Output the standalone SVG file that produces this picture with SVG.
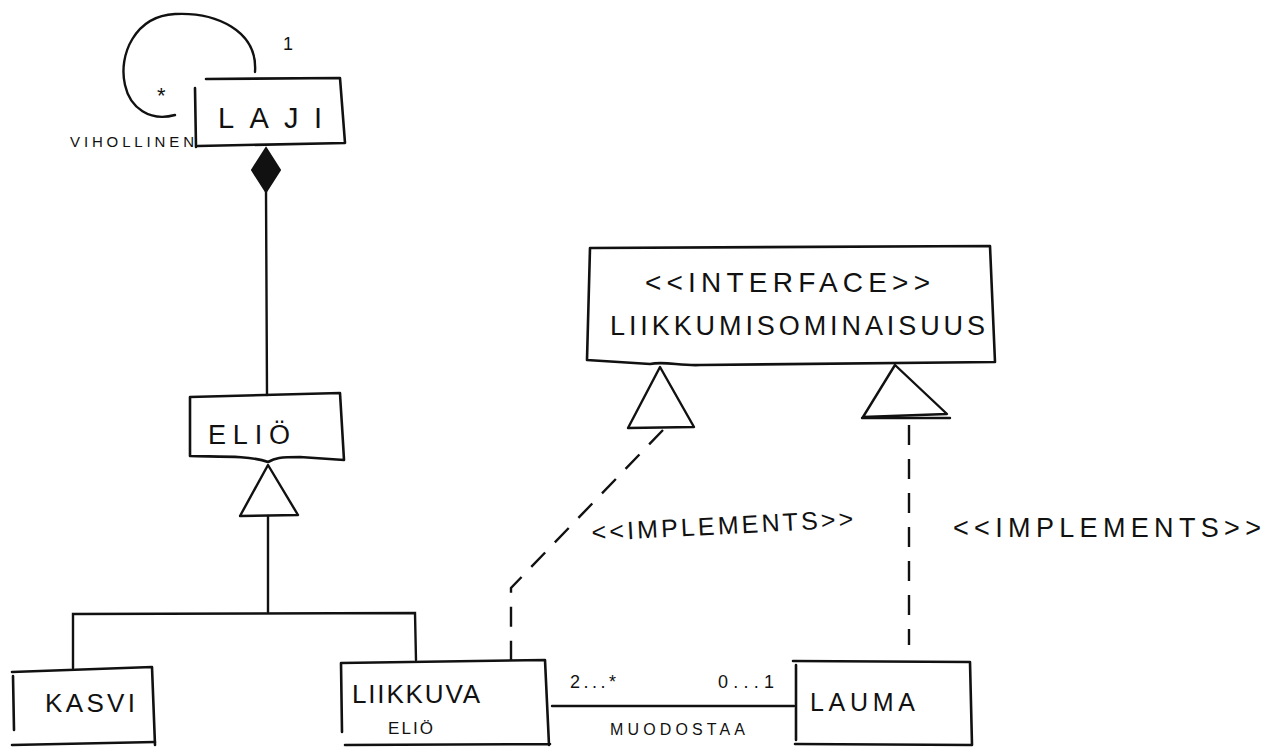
<svg xmlns="http://www.w3.org/2000/svg" width="1272" height="749" viewBox="0 0 1272 749">
<style>
.box{fill:none;stroke:#111;stroke-width:2.6;stroke-linecap:round;stroke-linejoin:round}
.ln{fill:none;stroke:#111;stroke-width:2.4;stroke-linecap:round}
.dash{fill:none;stroke:#111;stroke-width:2.4;stroke-dasharray:20 14}
.tri{fill:#fff;stroke:#111;stroke-width:2.4;stroke-linejoin:round}
.t{font-family:"Liberation Sans",Arial,sans-serif;fill:#111}
</style>
<rect width="1272" height="749" fill="#fff"/>
<g id="connectors">
  <path class="ln" d="M255 72 C258 30 215 12 175 14 C135 16 118 55 125 85 C130 108 150 122 175 115"/>
  <line class="ln" x1="266" y1="190" x2="267" y2="395"/>
  <polygon points="266,148 280,170 266,192 252,170" fill="#111" stroke="#111" stroke-width="2"/>
  <polygon class="tri" points="268,465 298,515 240,516"/>
  <line class="ln" x1="268" y1="516" x2="268" y2="612"/>
  <polyline class="ln" points="73,668 73,614 415,613 416,660"/>
  <polygon class="tri" points="660,367 694,427 628,428"/>
  <polygon class="tri" points="895,365 947,414 863,417"/>
  <line class="ln" x1="862" y1="418" x2="950" y2="418"/>
  <polyline class="dash" points="663,430 511,588 511,660"/>
  <line class="dash" x1="909" y1="425" x2="909" y2="645"/>
  <line class="ln" x1="552" y1="706" x2="794" y2="706"/>
  <text class="t" x="283" y="50" font-size="18">1</text>
  <text class="t" x="157" y="103" font-size="22">*</text>
  <text class="t" x="70" y="147" font-size="15" textLength="124" lengthAdjust="spacing">VIHOLLINEN</text>
  <text class="t" x="570" y="688" font-size="18" textLength="46" lengthAdjust="spacing">2...*</text>
  <text class="t" x="718" y="688" font-size="18" textLength="56" lengthAdjust="spacing">0...1</text>
  <text class="t" x="610" y="735" font-size="16" textLength="135" lengthAdjust="spacing">MUODOSTAA</text>
  <text class="t" x="592" y="541" font-size="25" transform="rotate(-3 592 541)" textLength="262" lengthAdjust="spacing">&lt;&lt;IMPLEMENTS&gt;&gt;</text>
  <text class="t" x="953" y="537" font-size="27" textLength="308" lengthAdjust="spacing">&lt;&lt;IMPLEMENTS&gt;&gt;</text>
</g>
<g id="laji">
  <path class="box" d="M195 88 L196 147 M206 79 L340 78 L345 143 L198 146"/>
  <text class="t" x="218" y="128" font-size="29" textLength="104" lengthAdjust="spacing">LAJI</text>
</g>
<g id="elio">
  <path class="box" d="M190 397 L340 393 L344 460 L300 457 C280 457 275 458 268 462 C250 455 210 457 190 456 Z"/>
  <text class="t" x="208" y="444" font-size="27" textLength="82" lengthAdjust="spacing">ELIÖ</text>
</g>
<g id="kasvi">
  <path class="box" d="M12 672 L152 667 L155 745 M13 676 L14 730"/>
  <path class="box" d="M12 745 L155 742"/>
  <text class="t" x="45" y="712" font-size="26" textLength="90" lengthAdjust="spacing">KASVI</text>
</g>
<g id="liikkuva">
  <path class="box" d="M341 663 L545 660 L549 745 M341 663 L342 732 M345 745 L550 744"/>
  <text class="t" x="352" y="703" font-size="26" textLength="128" lengthAdjust="spacing">LIIKKUVA</text>
  <text class="t" x="388" y="734" font-size="17" textLength="45" lengthAdjust="spacing">ELIÖ</text>
</g>
<g id="lauma">
  <path class="box" d="M793 661 L970 662 L972 745 M796 665 L796 740 M795 744 L972 745"/>
  <text class="t" x="810" y="711" font-size="25" textLength="105" lengthAdjust="spacing">LAUMA</text>
</g>
<g id="interface">
  <path class="box" d="M590 248 L990 246 L995 362 L700 365 C680 366 665 361 650 364 L587 360 Z"/>
  <text class="t" x="645" y="292" font-size="28" textLength="285" lengthAdjust="spacing">&lt;&lt;INTERFACE&gt;&gt;</text>
  <text class="t" x="610" y="335" font-size="27" textLength="375" lengthAdjust="spacing">LIIKKUMISOMINAISUUS</text>
</g>
</svg>
